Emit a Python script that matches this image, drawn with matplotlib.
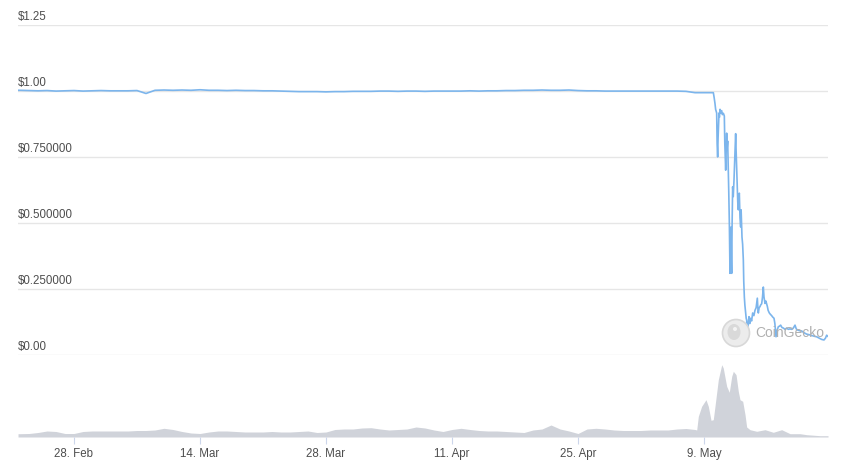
import matplotlib
matplotlib.use("Agg")
import matplotlib.pyplot as plt
import matplotlib.transforms as mtransforms
from matplotlib.patches import Ellipse
import pandas as pd

# ---------------- data ----------------
# daily price, 22 Feb .. 9 May 2022
flat_start = "2022-02-22"
flat_prices = [
    1.002, 1.001, 1.000, 1.001, 0.999,                      # Feb 22-26
    1.000, 1.001, 0.999, 1.000, 1.001, 1.000, 1.000,        # Feb 27 - Mar 5
    1.000, 1.001, 0.990, 1.002,                             # Mar 6-9
    1.003, 1.002, 1.003, 1.002, 1.004, 1.002, 1.002, 1.001, 1.002, 1.001, 1.001,  # Mar 10-20
    1.000, 1.000, 0.999, 0.998, 0.997, 0.997, 0.997, 0.996, 0.997, 0.997, 0.998,  # Mar 21-31
    0.998, 0.998, 0.999, 0.999, 0.998, 0.999, 0.999, 0.998, 0.999, 0.999,         # Apr 1-10
    0.999, 0.999, 1.000, 0.999, 1.000, 1.000, 1.001, 1.001, 1.002, 1.002,         # Apr 11-20
    1.003, 1.002, 1.002, 1.003, 1.001, 1.000, 1.000, 0.999, 0.999, 0.999,         # Apr 21-30
    0.999, 0.999, 0.999, 0.999, 0.999, 0.999, 0.998, 0.993, 0.993,                # May 1-9
]
first_point = ("2022-02-21 19:00", 1.002)

# crash period: hours after 9 May 2022 00:00
crash_origin = "2022-05-09"
crash_hours = [
    24, 24.9, 27, 29.3, 31, 33.8, 35, 36.4, 37.5, 40, 41, 42.7, 44, 47.1, 49, 51.6,
    54.2, 55.5, 57.8, 59, 60.4, 61.5, 63.1, 64.5, 66, 67.6, 68.5, 69.3, 70.5, 72,
    73, 73.8, 75, 76.4, 78, 80, 82, 84.4, 85.5, 87.1, 89, 90, 91.6, 93, 94.2, 96,
    97.8, 99, 100, 101.3, 103, 104.9, 106, 107.6, 109, 111.1, 112.5, 113.8, 115,
    116.4, 118, 120, 122, 124.4, 127, 129.8, 133, 136, 139, 142.2, 144, 144.9, 147,
    149.3, 151, 153.8, 156, 158.2, 160, 162.7, 165, 168.9, 171, 174.2, 177, 180.4,
    183, 186.7, 189, 192, 195, 198.2, 201, 204.4, 208, 211.6, 216, 220.4, 225,
    229.3, 234, 238.2, 242.7, 246, 248.9, 255, 260.4, 267, 273.8, 280, 287.1, 294,
    300.4, 307, 313.8, 320, 324, 327.1, 330,
]
crash_prices = [
    0.993, 0.993, 0.975, 0.952, 0.930, 0.916, 0.800, 0.750, 0.820, 0.916, 0.900, 0.930, 0.915, 0.925, 0.910, 0.915,
    0.905, 0.800, 0.700, 0.760, 0.840, 0.780, 0.810, 0.720, 0.620, 0.500, 0.400, 0.310, 0.450, 0.485,
    0.360, 0.310, 0.500, 0.637, 0.600, 0.663, 0.740, 0.838, 0.780, 0.712, 0.620, 0.580, 0.550, 0.600, 0.613, 0.520,
    0.485, 0.550, 0.500, 0.447, 0.420, 0.360, 0.280, 0.220, 0.190, 0.160, 0.140, 0.133, 0.100,
    0.084, 0.120, 0.146, 0.120, 0.140, 0.130, 0.160, 0.150, 0.170, 0.180, 0.216, 0.170, 0.160, 0.180,
    0.184, 0.190, 0.195, 0.220, 0.258, 0.220, 0.196, 0.205, 0.185, 0.170, 0.160, 0.155, 0.150,
    0.145, 0.140, 0.120, 0.070, 0.095, 0.108, 0.110, 0.114, 0.105, 0.103, 0.098, 0.103, 0.098,
    0.100, 0.098, 0.103, 0.114, 0.100, 0.096, 0.093, 0.092, 0.085, 0.080, 0.078, 0.075, 0.072,
    0.070, 0.065, 0.060, 0.058, 0.065, 0.076, 0.072,
]

# volume: days after 22 Feb 2022 00:00, values in million USD
vol_origin = "2022-02-22"
vol_days = [
    -0.22, 0, 1, 2, 3, 4, 5, 6, 7, 8, 9, 10, 11, 12, 13, 14, 15, 16, 17, 18, 19, 20,
    21, 22, 23, 24, 25, 26, 27, 28, 29, 30, 31, 32, 33, 34, 35, 36, 37, 38, 39, 40,
    41, 42, 43, 44, 45, 46, 47, 48, 49, 50, 51, 52, 53, 54, 55, 56, 57, 58, 59, 60,
    61, 62, 63, 64, 65, 66, 67, 68, 69, 70, 71, 72, 73, 74, 75,
    75.19, 75.37, 75.74, 76.22, 76.48, 76.78, 77.03, 77.22, 77.59, 77.97, 78.14,
    78.52, 78.81, 79.08, 79.26, 79.56, 79.81, 80.0, 80.3, 80.56, 80.74, 81.11,
    81.86, 82.78, 83.7, 84.63, 85.56, 86.67, 87.41, 88.89, 89.78,
]
vol_musd = [
    330, 330, 350, 450, 600, 550, 350, 350, 550, 600, 600, 600, 600, 600, 650, 650, 700, 870, 750, 550, 400, 350,
    500, 600, 600, 550, 500, 500, 500, 550, 500, 500, 550, 600, 450, 500, 750, 800, 800, 900, 930, 800,
    700, 750, 800, 1000, 900, 700, 550, 750, 870, 750, 650, 600, 600, 550, 500, 450, 700, 800, 1200, 800,
    600, 350, 800, 870, 800, 700, 650, 650, 650, 700, 700, 700, 800, 850, 750,
    700, 2070, 3070, 3730, 3070, 1670, 1730, 3070, 5730, 7230, 6900,
    5070, 4470, 6070, 6570, 6230, 4570, 3730, 3570, 2230, 1000, 730,
    570, 730, 470, 730, 330, 330, 230, 130, 130,
]

tick_dates = ["2022-02-28", "2022-03-14", "2022-03-28", "2022-04-11", "2022-04-25", "2022-05-09"]
tick_labels = ["28. Feb", "14. Mar", "28. Mar", "11. Apr", "25. Apr", "9. May"]
y_ticks = [0, 0.25, 0.5, 0.75, 1.0, 1.25]
y_labels = ["$0.00", "$0.250000", "$0.500000", "$0.750000", "$1.00", "$1.25"]

x_start = pd.Timestamp("2022-02-21 18:40")
x_end = pd.Timestamp("2022-05-22 18:40")

# ---------------- build series ----------------
flat_dates = pd.date_range(flat_start, periods=len(flat_prices), freq="D")
crash_dates = pd.Timestamp(crash_origin) + pd.to_timedelta(crash_hours, unit="h")
price_dates = [pd.Timestamp(first_point[0])] + list(flat_dates) + list(crash_dates)
prices = [first_point[1]] + flat_prices + crash_prices

vol_dates = pd.Timestamp(vol_origin) + pd.to_timedelta(vol_days, unit="D")

# ---------------- figure ----------------
W, H = 841, 474
fig = plt.figure(figsize=(W / 100, H / 100), dpi=100)
fig.patch.set_facecolor("white")

font = ["Liberation Sans", "DejaVu Sans"]
label_color = "#4d4d4d"

ax = fig.add_axes([18 / W, 118.7 / H, 810 / W, 330.6 / H])
ax.set_xlim(x_start, x_end)
ax.set_ylim(0, 1.25)
for s in ax.spines.values():
    s.set_visible(False)
ax.set_yticks(y_ticks)
ax.yaxis.grid(True, color="#e6e6e6", lw=1)
ax.set_axisbelow(True)
ax.tick_params(left=False, bottom=False, labelleft=False, labelbottom=False)

trans = mtransforms.blended_transform_factory(ax.transAxes, ax.transData)
offset = mtransforms.offset_copy(trans, fig=fig, x=0, y=2, units="dots")
for yv, lab in zip(y_ticks, y_labels):
    ax.text(0, yv, lab, transform=offset, ha="left", va="bottom",
            fontsize=8.3, color=label_color, family=font, zorder=1)

ax.plot(price_dates, prices, color="#7cb5ec", lw=1.2, zorder=3, solid_joinstyle="round")

# watermark (CoinGecko logo + text), in figure pixel positions
cxp, cyp = 736, 333
fig.add_artist(Ellipse((cxp / W, 1 - cyp / H), 27 / W, 27 / H, transform=fig.transFigure,
                       facecolor="#ececec", edgecolor="#d8d8d8", lw=1.2, zorder=2))
fig.add_artist(Ellipse(((cxp - 2) / W, 1 - (cyp - 1) / H), 13 / W, 16 / H, transform=fig.transFigure,
                       facecolor="#d9d9d9", edgecolor="none", zorder=2))
fig.add_artist(Ellipse(((cxp - 1) / W, 1 - (cyp - 4) / H), 4 / W, 4 / H, transform=fig.transFigure,
                       facecolor="#f4f4f4", edgecolor="none", zorder=2))
fig.text(755 / W, 1 - cyp / H, "CoinGecko", ha="left", va="center",
         fontsize=10, color="#b0b0b0", family=font, zorder=2)

# volume axes
ax2 = fig.add_axes([18 / W, 37 / H, 810 / W, 80 / H])
ax2.set_xlim(x_start, x_end)
ax2.set_ylim(0, 8000)
ax2.fill_between(vol_dates, vol_musd, 0, color="#d0d3da", lw=0)
for s in ax2.spines.values():
    s.set_visible(False)
ax2.set_yticks([])
ax2.set_xticks([pd.Timestamp(d) for d in tick_dates])
ax2.set_xticklabels(tick_labels, family=font, fontsize=8.3, color=label_color)
ax2.tick_params(axis="x", length=5.2, width=0.8, color="#ccd6eb", pad=2.5)
ax2.patch.set_alpha(0)

fig.savefig("out.png", dpi=100, facecolor="white")
